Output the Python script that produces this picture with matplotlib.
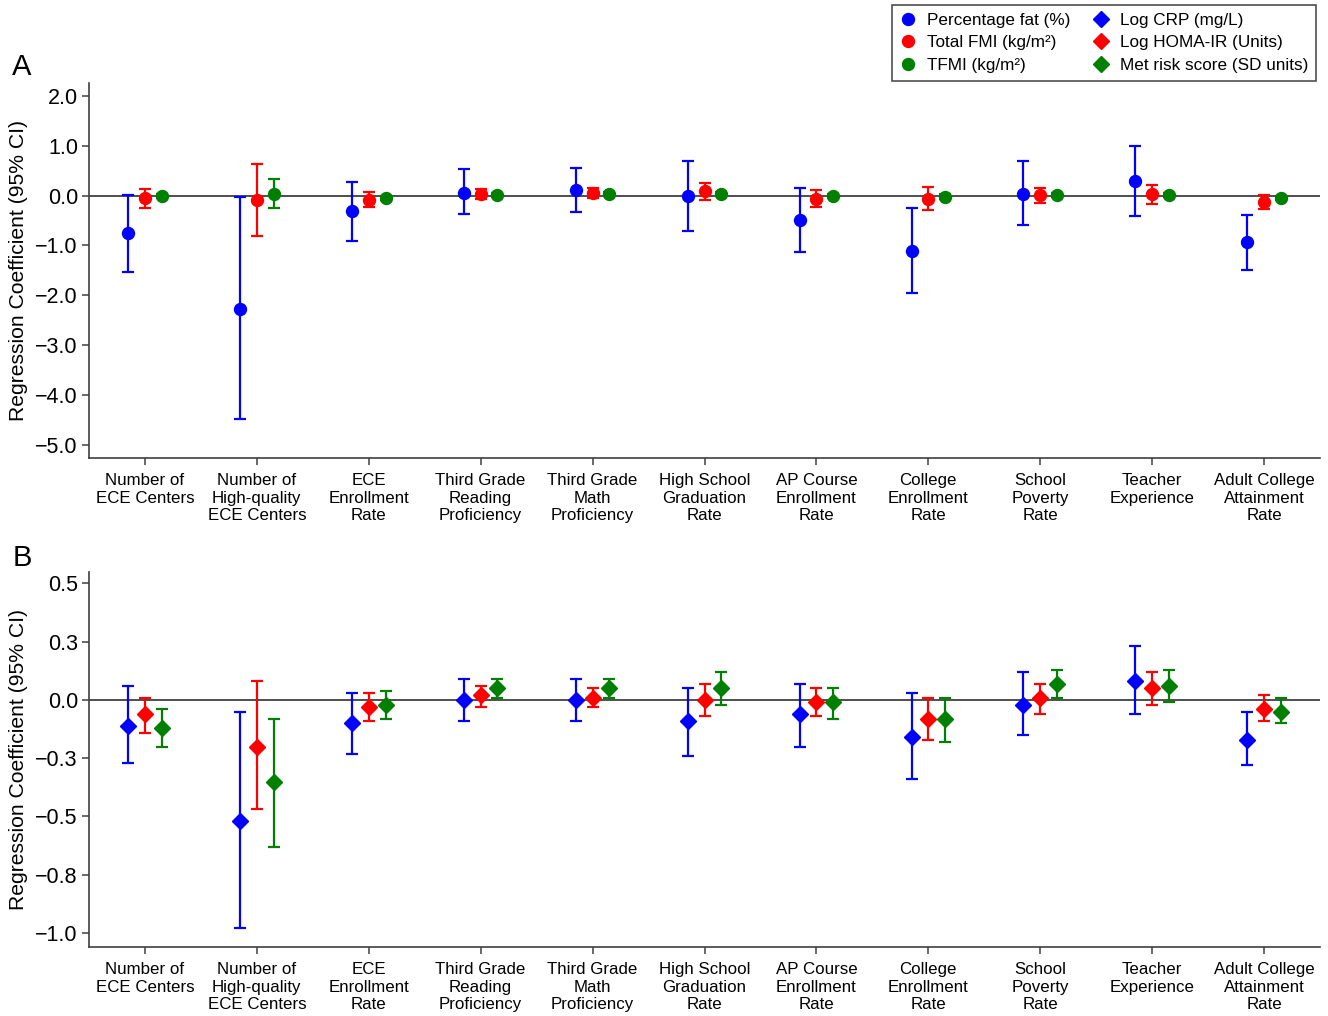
import matplotlib
matplotlib.use("Agg")
import matplotlib.pyplot as plt
from matplotlib.lines import Line2D
import numpy as np

plt.rcParams["font.family"] = ["Liberation Sans", "DejaVu Sans"]

# Neighborhood education indicators (x-axis categories)
categories = [
    "Number of\nECE Centers",
    "Number of\nHigh-quality\nECE Centers",
    "ECE\nEnrollment\nRate",
    "Third Grade\nReading\nProficiency",
    "Third Grade\nMath\nProficiency",
    "High School\nGraduation\nRate",
    "AP Course\nEnrollment\nRate",
    "College\nEnrollment\nRate",
    "School\nPoverty\nRate",
    "Teacher\nExperience",
    "Adult College\nAttainment\nRate",
]

# Panel A: adiposity outcomes (estimate, lower CI, upper CI)
pct_fat_est = [-0.76, -2.27, -0.32, 0.06, 0.11, -0.01, -0.49, -1.11, 0.04, 0.30, -0.94]
pct_fat_lo = [-1.54, -4.49, -0.91, -0.37, -0.33, -0.71, -1.13, -1.95, -0.59, -0.41, -1.50]
pct_fat_hi = [0.02, -0.02, 0.28, 0.53, 0.55, 0.69, 0.16, -0.26, 0.69, 0.99, -0.39]

fmi_est = [-0.05, -0.09, -0.09, 0.04, 0.06, 0.09, -0.06, -0.06, 0.01, 0.03, -0.13]
fmi_lo = [-0.26, -0.81, -0.22, -0.06, -0.04, -0.08, -0.22, -0.29, -0.14, -0.16, -0.28]
fmi_hi = [0.14, 0.63, 0.08, 0.14, 0.16, 0.26, 0.12, 0.18, 0.16, 0.21, 0.01]

tfmi_est = [0.00, 0.03, -0.04, 0.02, 0.03, 0.04, -0.01, -0.02, 0.01, 0.01, -0.04]
tfmi_lo = [-0.04, -0.26, -0.08, -0.02, -0.01, 0.00, -0.05, -0.07, -0.03, -0.03, -0.08]
tfmi_hi = [0.04, 0.33, 0.00, 0.06, 0.07, 0.08, 0.03, 0.03, 0.05, 0.05, 0.00]

# Panel B: cardiometabolic outcomes (estimate, lower CI, upper CI)
crp_est = [-0.11, -0.52, -0.10, 0.00, 0.00, -0.09, -0.06, -0.16, -0.02, 0.08, -0.17]
crp_lo = [-0.27, -0.98, -0.23, -0.09, -0.09, -0.24, -0.20, -0.34, -0.15, -0.06, -0.28]
crp_hi = [0.06, -0.05, 0.03, 0.09, 0.09, 0.05, 0.07, 0.03, 0.12, 0.23, -0.05]

homa_est = [-0.06, -0.20, -0.03, 0.02, 0.01, 0.00, -0.01, -0.08, 0.01, 0.05, -0.04]
homa_lo = [-0.14, -0.47, -0.09, -0.03, -0.03, -0.07, -0.07, -0.17, -0.06, -0.02, -0.09]
homa_hi = [0.01, 0.08, 0.03, 0.06, 0.05, 0.07, 0.05, 0.01, 0.07, 0.12, 0.02]

metrisk_est = [-0.12, -0.35, -0.02, 0.05, 0.05, 0.05, -0.01, -0.08, 0.07, 0.06, -0.05]
metrisk_lo = [-0.20, -0.63, -0.08, 0.01, 0.01, -0.02, -0.08, -0.18, 0.01, -0.01, -0.10]
metrisk_hi = [-0.04, -0.08, 0.04, 0.09, 0.09, 0.12, 0.05, 0.01, 0.13, 0.13, 0.01]

# Axis ticks
a_ticks = [-5.0, -4.0, -3.0, -2.0, -1.0, 0.0, 1.0, 2.0]
b_ticks = [-1.0, -0.75, -0.5, -0.25, 0.0, 0.25, 0.5]
b_tick_labels = ["\u22121.0", "\u22120.8", "\u22120.5", "\u22120.3", "0.0", "0.3", "0.5"]

series_a = [
    ("Percentage fat (%)", pct_fat_est, pct_fat_lo, pct_fat_hi),
    ("Total FMI (kg/m\u00b2)", fmi_est, fmi_lo, fmi_hi),
    ("TFMI (kg/m\u00b2)", tfmi_est, tfmi_lo, tfmi_hi),
]
series_b = [
    ("Log CRP (mg/L)", crp_est, crp_lo, crp_hi),
    ("Log HOMA-IR (Units)", homa_est, homa_lo, homa_hi),
    ("Met risk score (SD units)", metrisk_est, metrisk_lo, metrisk_hi),
]
colors = ["#0000ff", "#ff0000", "#008000"]
offsets = [-0.15, 0.0, 0.15]
axis_color = "#404040"

fig = plt.figure(figsize=(13.28, 10.16), dpi=100)
ax_a = fig.add_axes([89 / 1328, 1 - 458 / 1016, 1231 / 1328, 375 / 1016])
ax_b = fig.add_axes([89 / 1328, 1 - 947 / 1016, 1231 / 1328, 375 / 1016])

x = np.arange(1, len(categories) + 1)


def draw_panel(ax, series, marker, ms):
    ax.axhline(0, color=axis_color, lw=1.3, zorder=1)
    for (label, est, lo, hi), c, off in zip(series, colors, offsets):
        est = np.asarray(est)
        err = [est - np.asarray(lo), np.asarray(hi) - est]
        ax.errorbar(x + off, est, yerr=err, fmt=marker, color=c, ms=ms,
                    mec=c, mfc=c, elinewidth=1.6, capsize=4.5, capthick=1.6,
                    zorder=3)
    ax.set_xlim(0.5, len(categories) + 0.5)
    ax.set_xticks(x)
    ax.set_xticklabels(categories, fontsize=12.2, linespacing=1.2)
    for side in ("top", "right"):
        ax.spines[side].set_visible(False)
    for side in ("left", "bottom"):
        ax.spines[side].set_color(axis_color)
        ax.spines[side].set_linewidth(1.2)
    ax.tick_params(axis="both", direction="out", length=5, width=1.1,
                   color=axis_color)
    ax.tick_params(axis="x", pad=6)
    ax.tick_params(axis="y", labelsize=15.5, pad=3)
    ax.set_ylabel("Regression Coefficient (95% CI)", fontsize=15.2)
    ax.yaxis.set_label_coords(-0.0496, 0.5)


draw_panel(ax_a, series_a, "o", 8.6)
ax_a.set_ylim(-5.27, 2.26)
ax_a.set_yticks(a_ticks)
ax_a.set_yticklabels([f"{t:.1f}".replace("-", "\u2212") for t in a_ticks])

draw_panel(ax_b, series_b, "D", 7.8)
ax_b.set_ylim(-1.06, 0.549)
ax_b.set_yticks(b_ticks)
ax_b.set_yticklabels(b_tick_labels)

fig.text(12 / 1328, 1 - 67 / 1016, "A", fontsize=21, va="center", ha="left")
fig.text(13 / 1328, 1 - 558 / 1016, "B", fontsize=21, va="center", ha="left")

# Shared legend: adiposity (circles) and cardiometabolic (diamonds)
handles = []
labels = []
for (label, *_), c in zip(series_a, colors):
    handles.append(Line2D([], [], ls="none", marker="o", ms=8.6, color=c))
    labels.append(label)
for (label, *_), c in zip(series_b, colors):
    handles.append(Line2D([], [], ls="none", marker="D", ms=7.8, color=c))
    labels.append(label)

leg = fig.legend(handles, labels, ncol=2, loc="upper right",
                 bbox_to_anchor=(1316 / 1328, 1 - 5 / 1016),
                 fontsize=12.3, frameon=True, fancybox=False,
                 edgecolor="#222222", borderpad=0.45, labelspacing=0.45,
                 handlelength=1.0, handletextpad=0.6, columnspacing=1.3,
                 borderaxespad=0)
leg.get_frame().set_linewidth(1.2)

fig.savefig("out.png", dpi=100)
